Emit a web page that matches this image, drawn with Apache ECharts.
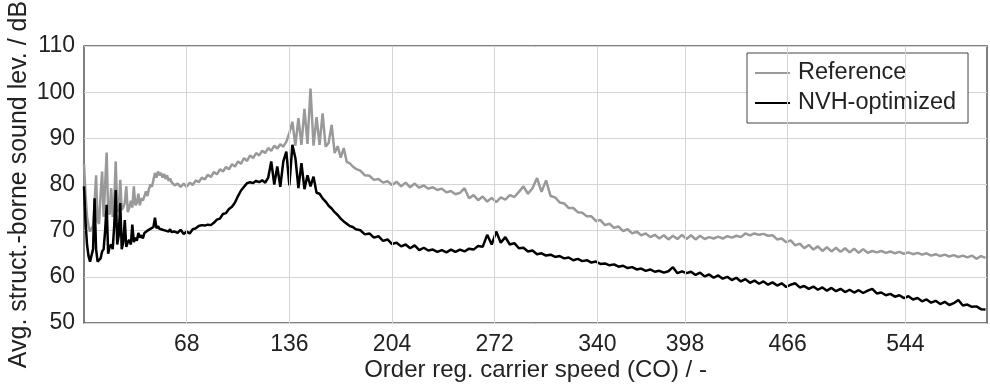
<!DOCTYPE html>
<html>
<head>
<meta charset="utf-8">
<script src="https://cdn.jsdelivr.net/npm/echarts@6.0.0/dist/echarts.min.js"></script>
<style>
html,body{margin:0;padding:0;background:#fff;}
#chart{width:990px;height:386px;}
</style>
</head>
<body>
<div id="chart"></div>
<script>
// sampling grid of the order axis (CO): fine at low orders, coarser above
const orders = [];
for (let x = 0; x <= 60; x += 1) orders.push(x);
for (let x = 62; x <= 180; x += 2) orders.push(x);
for (let x = 183; x <= 597; x += 3) orders.push(x);

const xTickValues = [68, 136, 204, 272, 340, 398, 466, 544];
const yTicks = [50, 60, 70, 80, 90, 100, 110];

const seriesNames = ['Reference', 'NVH-optimized'];

// Reference, averaged structure-borne sound level (dB)
const referenceLevel = [
  84.5, 78, 73, 71, 69.8, 70.5, 71, 76, 82, 72,
  71.5, 78, 82.8, 73, 80, 86.9, 74, 73.5, 79.2, 73,
  76, 85, 75, 74, 81, 74.5, 75, 76, 79.6, 74,
  75, 76.5, 75, 79.6, 75.5, 76, 78, 75.5, 77, 76.5,
  77.5, 78.5, 77.5, 79, 80, 79.5, 81, 82.5, 81.5, 82.8,
  82, 82.5, 81.5, 82.3, 81.2, 82, 80.8, 81.3, 80.5, 80.8,
  79.8,
  80.2, 79.5, 80.2, 79.5, 80.4, 79.9, 80.9, 80.5, 81.5, 81.1,
  82.1, 81.6, 82.7, 82.2, 83.3, 82.8, 83.8, 83.3, 84.4, 83.9,
  85.0, 84.5, 85.7, 85.1, 86.3, 85.7, 86.8, 86.3, 87.3, 86.8,
  87.9, 87.3, 88.4, 87.8, 88.7, 88.2, 89.3, 91.2, 93.6, 88.4,
  94.4, 88.6, 96.4, 88.8, 100.8, 88.4, 94.6, 88.6, 95.4, 88.2,
  89.0, 92.9, 86.8, 88.3, 85.8, 87.9, 84.9, 84.6, 83.9, 83.4,
  83.0, 82.0, 81.9, 81.0, 81.2, 80.4, 80.7, 79.9, 80.6, 79.6,
  80.4, 79.4, 80.2, 79.3, 79.8, 79.1, 79.4, 78.8, 79.1, 78.3,
  78.6, 77.9, 78.2, 79.2, 77.0, 77.7, 76.6, 77.4, 76.3, 77.1,
  76.2, 77.2, 76.7, 77.7, 77.3, 78.4, 79.6, 78.0, 79.2, 81.4,
  78.4, 80.9, 77.5, 77.2, 76.1, 75.9, 74.9, 74.9, 74.0, 73.9,
  73.1, 73.1, 72.1, 72.3, 71.2, 71.5, 70.6, 70.9, 69.9, 70.3,
  69.4, 69.8, 69.0, 69.4, 68.6, 69.1, 68.3, 69.0, 68.1, 68.9,
  68.2, 69.1, 68.2, 69.0, 68.1, 68.9, 68.2, 68.6, 68.3, 68.7,
  68.3, 68.8, 68.5, 68.9, 68.6, 69.4, 69.0, 69.4, 69.1, 69.3,
  68.9, 69.0, 68.1, 68.3, 67.5, 67.9, 66.8, 67.2, 66.2, 66.9,
  65.9, 66.6, 65.6, 66.4, 65.5, 66.3, 65.4, 66.2, 65.3, 66.1,
  65.2, 66.0, 65.2, 65.6, 65.3, 65.6, 65.2, 65.5, 65.1, 65.4,
  65.0, 65.3, 64.9, 65.2, 64.8, 65.1, 64.6, 64.9, 64.5, 64.8,
  64.4, 64.7, 64.3, 64.6, 64.2, 64.6, 63.9, 64.5, 64.1
];

// NVH-optimized, averaged structure-borne sound level (dB)
const nvhLevel = [
  79.6, 72, 67, 64.5, 63.3, 63.5, 66, 77, 66, 63.3,
  63.5, 64, 65.5, 66, 70, 75.6, 65, 66.5, 67, 66,
  71, 78.8, 67, 69, 76, 66, 67.5, 72.3, 66.5, 67.5,
  68, 67, 71.3, 67.5, 68.5, 67.8, 69.5, 68.5, 69, 68.3,
  69.5, 69.2, 70, 69.6, 70.4, 70.2, 70.8, 72.8, 70.5, 71,
  70.4, 70.8, 70.2, 70.6, 70, 70.4, 69.8, 70.3, 69.7, 70.1,
  69.8,
  69.5, 70.2, 69.3, 69.8, 69.4, 70.3, 70.5, 71.0, 71.2, 71.1,
  71.3, 71.2, 71.7, 72.4, 72.6, 73.6, 73.8, 74.7, 75.2, 76.1,
  77.5, 78.7, 79.5, 80.3, 80.5, 80.3, 80.8, 80.5, 80.9, 80.4,
  81.5, 85.0, 80.0, 83.9, 79.5, 85.0, 87.1, 79.8, 88.6, 85.7,
  79.2, 84.6, 79.0, 82.0, 79.6, 81.7, 78.2, 78.0, 77.0, 76.3,
  75.4, 74.8, 74.0, 73.4, 72.6, 72.0, 71.5, 71.0, 70.8, 70.3,
  70.1, 69.2, 69.4, 68.5, 68.8, 67.8, 68.1, 67.1, 67.4, 66.6,
  67.0, 66.2, 66.8, 65.8, 66.3, 65.7, 65.9, 65.4, 65.8, 65.3,
  65.9, 65.4, 65.9, 65.5, 66.1, 65.9, 66.7, 66.5, 69.1, 67.0,
  69.8, 67.4, 68.6, 67.0, 67.3, 66.2, 66.3, 65.5, 65.7, 64.9,
  65.1, 64.6, 64.8, 64.3, 64.5, 64.0, 64.2, 63.6, 63.9, 63.4,
  63.6, 63.1, 63.3, 62.8, 62.9, 62.5, 62.7, 62.2, 62.4, 61.9,
  62.1, 61.6, 61.8, 61.3, 61.6, 61.1, 61.3, 60.9, 61.2, 62.1,
  60.8, 61.2, 60.8, 61.1, 60.4, 60.9, 60.1, 60.5, 59.8, 60.3,
  59.6, 60.0, 59.3, 59.8, 59.0, 59.5, 58.7, 59.2, 58.5, 59.0,
  58.3, 58.8, 58.1, 58.6, 57.8, 58.3, 58.6, 57.7, 58.0, 57.4,
  57.9, 57.2, 57.7, 57.0, 57.6, 56.9, 57.4, 56.7, 57.2, 56.6,
  57.1, 56.5, 57.0, 57.4, 56.4, 56.6, 56.0, 56.3, 55.7, 56.0,
  55.4, 55.8, 55.1, 55.4, 54.7, 55.1, 54.4, 54.8, 54.1, 54.6,
  53.9, 54.3, 55.0, 53.8, 54.0, 53.5, 53.6, 53.0, 52.9
];

const FONT = '"Liberation Sans", Arial, Helvetica, sans-serif';
const chart = echarts.init(document.getElementById('chart'), null, {renderer: 'canvas'});

const option = {
  animation: false,
  backgroundColor: '#ffffff',
  grid: {
    left: 84, right: 3, top: 46, bottom: 63,
    outerBoundsMode: 'none',
    containLabel: false,
    show: true, borderColor: '#555555', borderWidth: 1.5, backgroundColor: 'transparent'
  },
  legend: {
    orient: 'vertical',
    left: 747, top: 53,
    icon: 'rect',
    itemWidth: 35, itemHeight: 2, itemGap: 6,
    padding: [8, 12, 8, 8],
    borderColor: '#444444', borderWidth: 1, borderRadius: 0,
    backgroundColor: '#ffffff',
    textStyle: {fontSize: 23.5, color: '#222222', fontFamily: FONT, padding: [0, 0, 0, 3]},
    data: seriesNames
  },
  xAxis: {
    type: 'value',
    min: 0, max: 598,
    name: 'Order reg. carrier speed (CO) / -',
    nameLocation: 'middle',
    nameGap: 35,
    nameMoveOverlap: false,
    nameTextStyle: {fontSize: 24, color: '#222222', fontFamily: FONT},
    axisLine: {show: false},
    axisTick: {show: false},
    splitLine: {show: false},
    axisLabel: {
      customValues: xTickValues,
      fontSize: 23, color: '#222222', fontFamily: FONT, margin: 10
    }
  },
  yAxis: {
    type: 'value',
    min: 50, max: 110, interval: 10,
    name: 'Avg. struct.-borne sound lev. / dB',
    nameLocation: 'middle',
    nameGap: 52,
    nameMoveOverlap: false,
    nameRotate: 90,
    nameTextStyle: {fontSize: 25, color: '#222222', fontFamily: FONT},
    axisLine: {show: false},
    axisTick: {show: false},
    splitLine: {show: true, lineStyle: {color: '#d4d4d4', width: 1}},
    axisLabel: {fontSize: 23, color: '#222222', fontFamily: FONT, margin: 9,
      customValues: yTicks}
  },
  series: [
    {
      name: '__grid',
      type: 'line',
      data: [],
      silent: true,
      z: 1,
      markLine: {
        silent: true,
        symbol: ['none', 'none'],
        label: {show: false},
        lineStyle: {color: '#d4d4d4', width: 1, type: 'solid'},
        animation: false,
        data: xTickValues.map(v => ({xAxis: v}))
      }
    },
    {
      name: seriesNames[0],
      type: 'line',
      symbol: 'none',
      z: 3,
      lineStyle: {color: '#999999', width: 2.5},
      itemStyle: {color: '#999999'},
      data: orders.map((x, i) => [x, referenceLevel[i]])
    },
    {
      name: seriesNames[1],
      type: 'line',
      symbol: 'none',
      z: 4,
      lineStyle: {color: '#000000', width: 2.5},
      itemStyle: {color: '#000000'},
      data: orders.map((x, i) => [x, nvhLevel[i]])
    }
  ]
};
chart.setOption(option);
</script>
</body>
</html>
